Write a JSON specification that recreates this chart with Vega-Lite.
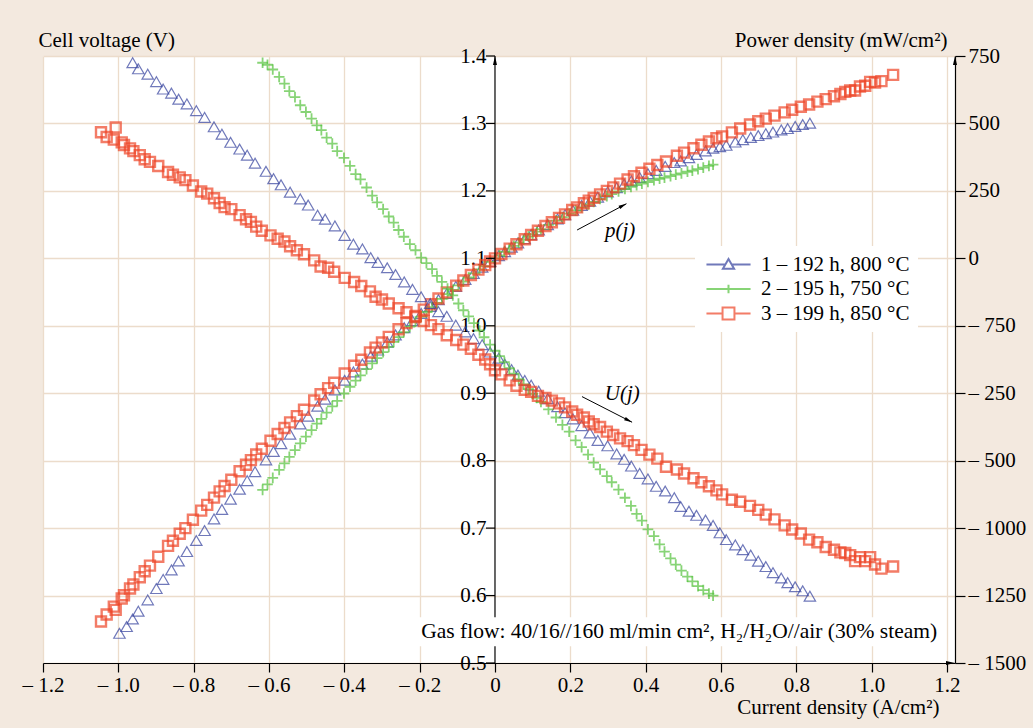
{
  "$schema": "https://vega.github.io/schema/vega-lite/v6.json",
  "width": 912,
  "height": 607,
  "autosize": {"type": "none"},
  "padding": {"left": 43, "top": 56, "right": 78, "bottom": 65},
  "background": "#f3e9df",
  "config": {
    "view": {"fill": "white", "stroke": null},
    "font": "Liberation Serif",
    "axis": {
      "labelFont": "Liberation Serif", "titleFont": "Liberation Serif",
      "labelFontSize": 21, "titleFontSize": 21, "titleFontWeight": "normal",
      "labelColor": "black", "titleColor": "black",
      "domainColor": "black", "tickColor": "black", "domainWidth": 1.2, "tickWidth": 1.2,
      "gridColor": "#ecdccb", "gridWidth": 1.3, "labelFlush": false, "labelOverlap": false
    }
  },
  "datasets": {
    "curves": [
      {"s":"1","j":-0.997,"U":null,"P":-1390},
      {"s":"1","j":-0.978,"U":null,"P":-1365},
      {"s":"1","j":-0.962,"U":1.390,"P":-1337},
      {"s":"1","j":-0.947,"U":1.381,"P":-1308},
      {"s":"1","j":-0.922,"U":1.373,"P":-1266},
      {"s":"1","j":-0.899,"U":1.362,"P":-1224},
      {"s":"1","j":-0.881,"U":1.351,"P":-1190},
      {"s":"1","j":-0.859,"U":1.345,"P":-1155},
      {"s":"1","j":-0.840,"U":1.336,"P":-1122},
      {"s":"1","j":-0.818,"U":1.329,"P":-1087},
      {"s":"1","j":-0.793,"U":1.319,"P":-1046},
      {"s":"1","j":-0.771,"U":1.309,"P":-1009},
      {"s":"1","j":-0.746,"U":1.295,"P":-966},
      {"s":"1","j":-0.725,"U":1.284,"P":-931},
      {"s":"1","j":-0.702,"U":1.272,"P":-893},
      {"s":"1","j":-0.678,"U":1.262,"P":-856},
      {"s":"1","j":-0.658,"U":1.253,"P":-824},
      {"s":"1","j":-0.637,"U":1.241,"P":-791},
      {"s":"1","j":-0.608,"U":1.229,"P":-747},
      {"s":"1","j":-0.588,"U":1.218,"P":-716},
      {"s":"1","j":-0.568,"U":1.209,"P":-687},
      {"s":"1","j":-0.544,"U":1.198,"P":-652},
      {"s":"1","j":-0.517,"U":1.188,"P":-614},
      {"s":"1","j":-0.496,"U":1.179,"P":-585},
      {"s":"1","j":-0.471,"U":1.164,"P":-548},
      {"s":"1","j":-0.451,"U":1.158,"P":-522},
      {"s":"1","j":-0.425,"U":1.148,"P":-488},
      {"s":"1","j":-0.399,"U":1.134,"P":-452},
      {"s":"1","j":-0.376,"U":1.121,"P":-421},
      {"s":"1","j":-0.352,"U":1.114,"P":-392},
      {"s":"1","j":-0.330,"U":1.101,"P":-363},
      {"s":"1","j":-0.311,"U":1.094,"P":-340},
      {"s":"1","j":-0.286,"U":1.086,"P":-311},
      {"s":"1","j":-0.264,"U":1.076,"P":-284},
      {"s":"1","j":-0.241,"U":1.065,"P":-257},
      {"s":"1","j":-0.219,"U":1.054,"P":-231},
      {"s":"1","j":-0.196,"U":1.043,"P":-204},
      {"s":"1","j":-0.172,"U":1.033,"P":-178},
      {"s":"1","j":-0.150,"U":1.021,"P":-153},
      {"s":"1","j":-0.128,"U":1.014,"P":-130},
      {"s":"1","j":-0.104,"U":1.001,"P":-104},
      {"s":"1","j":-0.079,"U":0.991,"P":-78},
      {"s":"1","j":-0.057,"U":0.981,"P":-56},
      {"s":"1","j":-0.034,"U":0.972,"P":-33},
      {"s":"1","j":-0.013,"U":0.961,"P":-12},
      {"s":"1","j":0.010,"U":0.952,"P":10},
      {"s":"1","j":0.026,"U":0.943,"P":25},
      {"s":"1","j":0.044,"U":0.935,"P":41},
      {"s":"1","j":0.061,"U":0.927,"P":57},
      {"s":"1","j":0.079,"U":0.919,"P":73},
      {"s":"1","j":0.096,"U":0.912,"P":88},
      {"s":"1","j":0.116,"U":0.903,"P":105},
      {"s":"1","j":0.140,"U":0.892,"P":125},
      {"s":"1","j":0.166,"U":0.880,"P":146},
      {"s":"1","j":0.186,"U":0.871,"P":162},
      {"s":"1","j":0.207,"U":0.862,"P":178},
      {"s":"1","j":0.230,"U":0.852,"P":196},
      {"s":"1","j":0.252,"U":0.841,"P":212},
      {"s":"1","j":0.273,"U":0.830,"P":227},
      {"s":"1","j":0.299,"U":0.822,"P":246},
      {"s":"1","j":0.323,"U":0.810,"P":262},
      {"s":"1","j":0.343,"U":0.802,"P":275},
      {"s":"1","j":0.362,"U":0.792,"P":287},
      {"s":"1","j":0.384,"U":0.781,"P":300},
      {"s":"1","j":0.406,"U":0.773,"P":314},
      {"s":"1","j":0.428,"U":0.762,"P":326},
      {"s":"1","j":0.452,"U":0.755,"P":341},
      {"s":"1","j":0.476,"U":0.745,"P":355},
      {"s":"1","j":0.493,"U":0.732,"P":361},
      {"s":"1","j":0.515,"U":0.725,"P":373},
      {"s":"1","j":0.535,"U":0.719,"P":385},
      {"s":"1","j":0.559,"U":0.712,"P":398},
      {"s":"1","j":0.579,"U":0.704,"P":408},
      {"s":"1","j":0.597,"U":0.693,"P":414},
      {"s":"1","j":0.614,"U":0.683,"P":419},
      {"s":"1","j":0.638,"U":0.675,"P":431},
      {"s":"1","j":0.658,"U":0.668,"P":440},
      {"s":"1","j":0.679,"U":0.660,"P":448},
      {"s":"1","j":0.699,"U":0.651,"P":455},
      {"s":"1","j":0.719,"U":0.643,"P":462},
      {"s":"1","j":0.738,"U":0.634,"P":468},
      {"s":"1","j":0.760,"U":0.626,"P":476},
      {"s":"1","j":0.777,"U":0.619,"P":481},
      {"s":"1","j":0.797,"U":0.613,"P":489},
      {"s":"1","j":0.817,"U":0.607,"P":496},
      {"s":"1","j":0.836,"U":0.599,"P":501},
      {"s":"2","j":-0.617,"U":1.390,"P":-858},
      {"s":"2","j":-0.604,"U":1.387,"P":-838},
      {"s":"2","j":-0.590,"U":1.380,"P":-814},
      {"s":"2","j":-0.573,"U":1.369,"P":-784},
      {"s":"2","j":-0.559,"U":1.359,"P":-760},
      {"s":"2","j":-0.546,"U":1.348,"P":-736},
      {"s":"2","j":-0.531,"U":1.339,"P":-711},
      {"s":"2","j":-0.517,"U":1.327,"P":-686},
      {"s":"2","j":-0.502,"U":1.317,"P":-661},
      {"s":"2","j":-0.487,"U":1.307,"P":-637},
      {"s":"2","j":-0.473,"U":1.297,"P":-613},
      {"s":"2","j":-0.461,"U":1.290,"P":-595},
      {"s":"2","j":-0.447,"U":1.279,"P":-572},
      {"s":"2","j":-0.432,"U":1.270,"P":-549},
      {"s":"2","j":-0.419,"U":1.259,"P":-528},
      {"s":"2","j":-0.401,"U":1.249,"P":-501},
      {"s":"2","j":-0.385,"U":1.237,"P":-476},
      {"s":"2","j":-0.370,"U":1.225,"P":-453},
      {"s":"2","j":-0.357,"U":1.217,"P":-434},
      {"s":"2","j":-0.341,"U":1.205,"P":-411},
      {"s":"2","j":-0.326,"U":1.193,"P":-389},
      {"s":"2","j":-0.313,"U":1.183,"P":-370},
      {"s":"2","j":-0.297,"U":1.173,"P":-348},
      {"s":"2","j":-0.282,"U":1.162,"P":-328},
      {"s":"2","j":-0.269,"U":1.153,"P":-310},
      {"s":"2","j":-0.256,"U":1.142,"P":-292},
      {"s":"2","j":-0.242,"U":1.132,"P":-274},
      {"s":"2","j":-0.226,"U":1.121,"P":-253},
      {"s":"2","j":-0.211,"U":1.112,"P":-235},
      {"s":"2","j":-0.196,"U":1.101,"P":-216},
      {"s":"2","j":-0.182,"U":1.093,"P":-199},
      {"s":"2","j":-0.167,"U":1.084,"P":-181},
      {"s":"2","j":-0.154,"U":1.074,"P":-165},
      {"s":"2","j":-0.141,"U":1.065,"P":-150},
      {"s":"2","j":-0.126,"U":1.055,"P":-133},
      {"s":"2","j":-0.112,"U":1.045,"P":-117},
      {"s":"2","j":-0.097,"U":1.033,"P":-100},
      {"s":"2","j":-0.084,"U":1.023,"P":-86},
      {"s":"2","j":-0.070,"U":1.014,"P":-71},
      {"s":"2","j":-0.056,"U":1.004,"P":-56},
      {"s":"2","j":-0.041,"U":0.993,"P":-41},
      {"s":"2","j":-0.029,"U":0.983,"P":-29},
      {"s":"2","j":-0.013,"U":0.972,"P":-13},
      {"s":"2","j":0.000,"U":0.963,"P":0},
      {"s":"2","j":0.012,"U":0.955,"P":11},
      {"s":"2","j":0.025,"U":0.946,"P":24},
      {"s":"2","j":0.038,"U":0.937,"P":36},
      {"s":"2","j":0.050,"U":0.929,"P":46},
      {"s":"2","j":0.063,"U":0.921,"P":58},
      {"s":"2","j":0.076,"U":0.913,"P":69},
      {"s":"2","j":0.089,"U":0.906,"P":81},
      {"s":"2","j":0.100,"U":0.899,"P":90},
      {"s":"2","j":0.111,"U":0.893,"P":99},
      {"s":"2","j":0.122,"U":0.887,"P":108},
      {"s":"2","j":0.142,"U":0.876,"P":124},
      {"s":"2","j":0.162,"U":0.864,"P":140},
      {"s":"2","j":0.179,"U":0.853,"P":153},
      {"s":"2","j":0.197,"U":0.843,"P":166},
      {"s":"2","j":0.214,"U":0.830,"P":178},
      {"s":"2","j":0.230,"U":0.820,"P":189},
      {"s":"2","j":0.247,"U":0.809,"P":200},
      {"s":"2","j":0.262,"U":0.797,"P":209},
      {"s":"2","j":0.279,"U":0.787,"P":220},
      {"s":"2","j":0.297,"U":0.777,"P":231},
      {"s":"2","j":0.310,"U":0.768,"P":238},
      {"s":"2","j":0.328,"U":0.757,"P":248},
      {"s":"2","j":0.345,"U":0.745,"P":257},
      {"s":"2","j":0.361,"U":0.733,"P":265},
      {"s":"2","j":0.376,"U":0.721,"P":271},
      {"s":"2","j":0.390,"U":0.711,"P":277},
      {"s":"2","j":0.406,"U":0.698,"P":283},
      {"s":"2","j":0.422,"U":0.688,"P":290},
      {"s":"2","j":0.437,"U":0.676,"P":295},
      {"s":"2","j":0.450,"U":0.665,"P":299},
      {"s":"2","j":0.466,"U":0.655,"P":305},
      {"s":"2","j":0.480,"U":0.646,"P":310},
      {"s":"2","j":0.495,"U":0.637,"P":315},
      {"s":"2","j":0.511,"U":0.628,"P":321},
      {"s":"2","j":0.524,"U":0.621,"P":325},
      {"s":"2","j":0.539,"U":0.614,"P":331},
      {"s":"2","j":0.553,"U":0.608,"P":336},
      {"s":"2","j":0.568,"U":0.603,"P":343},
      {"s":"2","j":0.579,"U":0.600,"P":347},
      {"s":"3","j":-1.046,"U":1.287,"P":-1346},
      {"s":"3","j":-1.031,"U":1.280,"P":-1320},
      {"s":"3","j":-1.012,"U":1.276,"P":-1291},
      {"s":"3","j":-1.007,"U":1.294,"P":-1303},
      {"s":"3","j":-0.991,"U":1.272,"P":-1261},
      {"s":"3","j":-0.985,"U":1.268,"P":-1249},
      {"s":"3","j":-0.969,"U":1.263,"P":-1224},
      {"s":"3","j":-0.960,"U":1.259,"P":-1209},
      {"s":"3","j":-0.943,"U":1.253,"P":-1182},
      {"s":"3","j":-0.930,"U":1.247,"P":-1160},
      {"s":"3","j":-0.916,"U":1.243,"P":-1139},
      {"s":"3","j":-0.894,"U":1.237,"P":-1106},
      {"s":"3","j":-0.868,"U":1.228,"P":-1066},
      {"s":"3","j":-0.855,"U":1.224,"P":-1047},
      {"s":"3","j":-0.837,"U":1.220,"P":-1021},
      {"s":"3","j":-0.822,"U":1.216,"P":-1000},
      {"s":"3","j":-0.802,"U":1.208,"P":-969},
      {"s":"3","j":-0.780,"U":1.199,"P":-935},
      {"s":"3","j":-0.764,"U":1.196,"P":-914},
      {"s":"3","j":-0.746,"U":1.189,"P":-887},
      {"s":"3","j":-0.731,"U":1.182,"P":-864},
      {"s":"3","j":-0.718,"U":1.176,"P":-844},
      {"s":"3","j":-0.700,"U":1.173,"P":-821},
      {"s":"3","j":-0.678,"U":1.164,"P":-789},
      {"s":"3","j":-0.661,"U":1.158,"P":-765},
      {"s":"3","j":-0.648,"U":1.154,"P":-748},
      {"s":"3","j":-0.634,"U":1.147,"P":-727},
      {"s":"3","j":-0.619,"U":1.141,"P":-706},
      {"s":"3","j":-0.596,"U":1.134,"P":-676},
      {"s":"3","j":-0.577,"U":1.129,"P":-651},
      {"s":"3","j":-0.559,"U":1.125,"P":-629},
      {"s":"3","j":-0.544,"U":1.118,"P":-608},
      {"s":"3","j":-0.526,"U":1.112,"P":-585},
      {"s":"3","j":-0.507,"U":1.106,"P":-561},
      {"s":"3","j":-0.480,"U":1.097,"P":-527},
      {"s":"3","j":-0.463,"U":1.088,"P":-504},
      {"s":"3","j":-0.443,"U":1.086,"P":-481},
      {"s":"3","j":-0.427,"U":1.080,"P":-461},
      {"s":"3","j":-0.399,"U":1.071,"P":-427},
      {"s":"3","j":-0.374,"U":1.065,"P":-398},
      {"s":"3","j":-0.355,"U":1.059,"P":-376},
      {"s":"3","j":-0.332,"U":1.051,"P":-349},
      {"s":"3","j":-0.317,"U":1.043,"P":-331},
      {"s":"3","j":-0.300,"U":1.039,"P":-312},
      {"s":"3","j":-0.282,"U":1.033,"P":-291},
      {"s":"3","j":-0.256,"U":1.026,"P":-263},
      {"s":"3","j":-0.235,"U":1.020,"P":-240},
      {"s":"3","j":-0.211,"U":1.013,"P":-214},
      {"s":"3","j":-0.189,"U":1.007,"P":-190},
      {"s":"3","j":-0.170,"U":1.001,"P":-170},
      {"s":"3","j":-0.150,"U":0.995,"P":-149},
      {"s":"3","j":-0.128,"U":0.986,"P":-126},
      {"s":"3","j":-0.103,"U":0.979,"P":-101},
      {"s":"3","j":-0.084,"U":0.972,"P":-82},
      {"s":"3","j":-0.064,"U":0.966,"P":-62},
      {"s":"3","j":-0.044,"U":0.957,"P":-42},
      {"s":"3","j":-0.026,"U":0.950,"P":-25},
      {"s":"3","j":-0.013,"U":0.943,"P":-12},
      {"s":"3","j":0.000,"U":0.934,"P":0},
      {"s":"3","j":0.017,"U":0.928,"P":16},
      {"s":"3","j":0.039,"U":0.919,"P":36},
      {"s":"3","j":0.057,"U":0.911,"P":52},
      {"s":"3","j":0.079,"U":0.905,"P":71},
      {"s":"3","j":0.096,"U":0.902,"P":87},
      {"s":"3","j":0.114,"U":0.896,"P":102},
      {"s":"3","j":0.134,"U":0.893,"P":120},
      {"s":"3","j":0.151,"U":0.889,"P":134},
      {"s":"3","j":0.170,"U":0.885,"P":150},
      {"s":"3","j":0.186,"U":0.879,"P":163},
      {"s":"3","j":0.205,"U":0.873,"P":179},
      {"s":"3","j":0.218,"U":0.868,"P":189},
      {"s":"3","j":0.236,"U":0.864,"P":204},
      {"s":"3","j":0.249,"U":0.858,"P":214},
      {"s":"3","j":0.262,"U":0.854,"P":224},
      {"s":"3","j":0.279,"U":0.850,"P":237},
      {"s":"3","j":0.297,"U":0.843,"P":250},
      {"s":"3","j":0.314,"U":0.838,"P":263},
      {"s":"3","j":0.332,"U":0.833,"P":277},
      {"s":"3","j":0.352,"U":0.829,"P":292},
      {"s":"3","j":0.369,"U":0.823,"P":304},
      {"s":"3","j":0.389,"U":0.816,"P":317},
      {"s":"3","j":0.410,"U":0.809,"P":332},
      {"s":"3","j":0.431,"U":0.803,"P":346},
      {"s":"3","j":0.454,"U":0.791,"P":359},
      {"s":"3","j":0.483,"U":0.787,"P":380},
      {"s":"3","j":0.502,"U":0.781,"P":392},
      {"s":"3","j":0.527,"U":0.774,"P":408},
      {"s":"3","j":0.548,"U":0.768,"P":421},
      {"s":"3","j":0.568,"U":0.762,"P":433},
      {"s":"3","j":0.588,"U":0.756,"P":445},
      {"s":"3","j":0.603,"U":0.750,"P":452},
      {"s":"3","j":0.629,"U":0.742,"P":467},
      {"s":"3","j":0.651,"U":0.739,"P":481},
      {"s":"3","j":0.677,"U":0.733,"P":496},
      {"s":"3","j":0.699,"U":0.727,"P":508},
      {"s":"3","j":0.719,"U":0.720,"P":518},
      {"s":"3","j":0.742,"U":0.713,"P":529},
      {"s":"3","j":0.769,"U":0.704,"P":541},
      {"s":"3","j":0.789,"U":0.698,"P":551},
      {"s":"3","j":0.812,"U":0.692,"P":562},
      {"s":"3","j":0.834,"U":0.683,"P":570},
      {"s":"3","j":0.856,"U":0.679,"P":581},
      {"s":"3","j":0.878,"U":0.672,"P":590},
      {"s":"3","j":0.900,"U":0.668,"P":601},
      {"s":"3","j":0.917,"U":0.664,"P":609},
      {"s":"3","j":0.930,"U":0.663,"P":617},
      {"s":"3","j":0.943,"U":0.660,"P":622},
      {"s":"3","j":0.956,"U":0.651,"P":622},
      {"s":"3","j":0.969,"U":0.657,"P":637},
      {"s":"3","j":0.983,"U":0.651,"P":640},
      {"s":"3","j":0.996,"U":0.657,"P":654},
      {"s":"3","j":1.009,"U":0.646,"P":652},
      {"s":"3","j":1.026,"U":0.640,"P":657},
      {"s":"3","j":1.057,"U":0.643,"P":680}
    ],
    "uticks": [
      {"t":0.5},{"t":0.6},{"t":0.7},{"t":0.8},{"t":0.9},
      {"t":1.0},{"t":1.1},{"t":1.2},{"t":1.3},{"t":1.4}
    ]
  },
  "data": {"name": "curves"},
  "resolve": {"scale": {"y": "independent", "color": "independent", "shape": "independent"}},
  "layer": [
    {
      "mark": {"type": "point", "filled": false, "clip": true},
      "encoding": {
        "x": {"field": "j", "type": "quantitative", "scale": {"domain": [-1.2, 1.2213], "nice": false, "zero": false}},
        "y": {
          "field": "P", "type": "quantitative",
          "scale": {"domain": [-1500, 750], "nice": false, "zero": false},
          "axis": {
            "orient": "right",
            "values": [-1500, -1250, -1000, -750, -500, -250, 0, 250, 500, 750],
            "labelExpr": "datum.value == -250 ? '– 750' : datum.value == -500 ? '– 250' : datum.value == -750 ? '– 500' : datum.value < 0 ? '– ' + abs(datum.value) : '' + datum.value",
            "grid": true, "tickSize": 10, "labelPadding": 3,
            "title": "Power density (mW/cm²)", "titleAngle": 0,
            "titleX": -8, "titleY": -10, "titleAlign": "right", "titleBaseline": "alphabetic"
          }
        },
        "color": {
          "field": "s", "type": "nominal",
          "scale": {"domain": ["1", "2", "3"], "range": ["#34419e", "#55c23d", "#ee4527"]},
          "legend": null
        },
        "shape": {
          "field": "s", "type": "nominal",
          "scale": {"domain": ["1", "2", "3"], "range": ["triangle-up", "M-1,0H1M0,-1V1", "square"]},
          "legend": null
        },
        "size": {
          "field": "s", "type": "ordinal",
          "scale": {"range": [130, 100, 170]},
          "legend": null
        },
        "strokeWidth": {
          "field": "s", "type": "ordinal",
          "scale": {"range": [1.2, 2.4, 1.4]},
          "legend": null
        }
      }
    },
    {
      "layer": [
        {
          "mark": {"type": "point", "filled": false, "clip": true},
          "encoding": {
            "x": {
              "field": "j", "type": "quantitative",
              "scale": {"domain": [-1.2, 1.2213], "nice": false, "zero": false},
              "axis": {
                "values": [-1.2, -1, -0.8, -0.6, -0.4, -0.2, 0, 0.2, 0.4, 0.6, 0.8, 1, 1.2],
                "labelExpr": "datum.value == 0 ? '0' : (datum.value < 0 ? '– ' : '') + format(abs(datum.value), '.1f')",
                "grid": true, "tickSize": 9, "labelPadding": 2,
                "gridOpacity": {"condition": {"test": "datum.value === 0", "value": 0}, "value": 1},
                "title": "Current density (A/cm²)",
                "titleX": 896, "titleY": 50, "titleAlign": "right", "titleBaseline": "alphabetic"
              }
            },
            "y": {
              "field": "U", "type": "quantitative",
              "scale": {"domain": [0.5, 1.4], "nice": false, "zero": false},
              "axis": {
                "orient": "left", "offset": -455,
                "domain": false, "ticks": false,
                "values": [0.5, 0.6, 0.7, 0.8, 0.9, 1, 1.1, 1.2, 1.3, 1.4],
                "format": ".1f", "grid": false, "labelPadding": 12,
                "title": "Cell voltage (V)", "titleAngle": 0,
                "titleX": -460, "titleY": -10, "titleAlign": "left", "titleBaseline": "alphabetic"
              }
            },
            "color": {
              "field": "s", "type": "nominal",
              "scale": {"domain": ["1", "2", "3"], "range": ["#34419e", "#55c23d", "#ee4527"]},
              "legend": null
            },
            "shape": {
              "field": "s", "type": "nominal",
              "scale": {"domain": ["1", "2", "3"], "range": ["triangle-up", "M-1,0H1M0,-1V1", "square"]},
              "legend": null
            },
            "size": {
              "field": "s", "type": "ordinal",
              "scale": {"range": [130, 100, 170]},
              "legend": null
            },
            "strokeWidth": {
              "field": "s", "type": "ordinal",
              "scale": {"range": [1.2, 2.4, 1.4]},
              "legend": null
            }
          }
        },
        {
          "data": {"values": [{}]},
          "mark": {"type": "rule", "color": "black", "strokeWidth": 1.2},
          "encoding": {
            "x": {"datum": 0, "type": "quantitative"},
            "y": {"datum": 0.5, "type": "quantitative"},
            "y2": {"datum": 1.4}
          }
        },
        {
          "data": {"name": "uticks"},
          "mark": {"type": "rule", "color": "black", "strokeWidth": 1.2},
          "encoding": {
            "x": {"datum": -0.0239, "type": "quantitative"},
            "x2": {"datum": 0},
            "y": {"field": "t", "type": "quantitative", "scale": {"domain": [0.5, 1.4], "nice": false, "zero": false}}
          }
        },
        {
          "data": {"values": [{}]},
          "mark": {"type": "rect", "fill": "white"},
          "encoding": {
            "x": {"datum": -0.215, "type": "quantitative"},
            "x2": {"datum": 1.19},
            "y": {"datum": 0.525, "type": "quantitative"},
            "y2": {"datum": 0.568}
          }
        },
        {
          "data": {"values": [{}]},
          "mark": {"type": "text", "font": "Liberation Serif", "fontSize": 21.5, "align": "center", "baseline": "middle", "color": "black"},
          "encoding": {
            "x": {"datum": 0.489, "type": "quantitative"},
            "y": {"datum": 0.546, "type": "quantitative"},
            "text": {"value": "Gas flow: 40/16//160 ml/min cm², H₂/H₂O//air (30% steam)"}
          }
        },
        {
          "data": {"values": [{}]},
          "mark": {"type": "rule", "color": "black", "strokeWidth": 1},
          "encoding": {
            "x": {"datum": 0.218, "type": "quantitative"},
            "y": {"datum": 1.142, "type": "quantitative"},
            "x2": {"datum": 0.349},
            "y2": {"datum": 1.181}
          }
        },
        {
          "data": {"values": [{}]},
          "mark": {"type": "rule", "color": "black", "strokeWidth": 1},
          "encoding": {
            "x": {"datum": 0.231, "type": "quantitative"},
            "y": {"datum": 0.895, "type": "quantitative"},
            "x2": {"datum": 0.364},
            "y2": {"datum": 0.857}
          }
        },
        {
          "data": {"values": [{}]},
          "mark": {"type": "point", "filled": true, "color": "black", "shape": "M0,0L-0.45,2L0.45,2Z", "size": 64, "angle": 62, "opacity": 1},
          "encoding": {
            "x": {"datum": 0.349, "type": "quantitative"},
            "y": {"datum": 1.181, "type": "quantitative"}
          }
        },
        {
          "data": {"values": [{}]},
          "mark": {"type": "point", "filled": true, "color": "black", "shape": "M0,0L-0.45,2L0.45,2Z", "size": 64, "angle": 117, "opacity": 1},
          "encoding": {
            "x": {"datum": 0.364, "type": "quantitative"},
            "y": {"datum": 0.857, "type": "quantitative"}
          }
        },
        {
          "data": {"values": [{}]},
          "mark": {"type": "point", "filled": true, "color": "black", "shape": "M0,0L-0.45,2L0.45,2Z", "size": 81, "angle": 0, "opacity": 1, "clip": false},
          "encoding": {
            "x": {"datum": 0, "type": "quantitative"},
            "y": {"datum": 1.4, "type": "quantitative"}
          }
        },
        {
          "data": {"values": [{}]},
          "mark": {"type": "point", "filled": true, "color": "black", "shape": "M0,0L-0.45,2L0.45,2Z", "size": 81, "angle": 0, "opacity": 1, "clip": false},
          "encoding": {
            "x": {"datum": 1.2213, "type": "quantitative"},
            "y": {"datum": 1.4, "type": "quantitative"}
          }
        },
        {
          "data": {"values": [{}]},
          "mark": {"type": "point", "filled": true, "color": "black", "shape": "M0,0L-0.45,2L0.45,2Z", "size": 81, "angle": 90, "opacity": 1, "clip": false},
          "encoding": {
            "x": {"datum": 1.2213, "type": "quantitative"},
            "y": {"datum": 0.5, "type": "quantitative"}
          }
        },
        {
          "data": {"values": [{}]},
          "mark": {"type": "text", "font": "Liberation Serif", "fontSize": 21, "fontStyle": "italic", "align": "center", "baseline": "alphabetic", "color": "black"},
          "encoding": {
            "x": {"datum": 0.332, "type": "quantitative"},
            "y": {"datum": 1.132, "type": "quantitative"},
            "text": {"value": "p(j)"}
          }
        },
        {
          "data": {"values": [{}]},
          "mark": {"type": "text", "font": "Liberation Serif", "fontSize": 21, "fontStyle": "italic", "align": "center", "baseline": "alphabetic", "color": "black"},
          "encoding": {
            "x": {"datum": 0.338, "type": "quantitative"},
            "y": {"datum": 0.89, "type": "quantitative"},
            "text": {"value": "U(j)"}
          }
        }
      ]
    },
    {
      "transform": [{"filter": "datum.s == 'none'"}],
      "mark": {"type": "point", "filled": false},
      "encoding": {
        "x": {"field": "j", "type": "quantitative", "scale": {"domain": [-1.2, 1.2213], "nice": false, "zero": false}},
        "color": {
          "field": "s", "type": "nominal",
          "scale": {"domain": ["1", "2", "3"], "range": ["#34419e", "#55c23d", "#ee4527"]},
          "legend": {
            "orient": "none", "legendX": 652, "legendY": 190, "title": null,
            "fillColor": "white", "padding": 8,
            "labelFont": "Liberation Serif", "labelFontSize": 21, "labelColor": "black",
            "labelExpr": "datum.value == '1' ? '1 – 192 h, 800 °C' : datum.value == '2' ? '2 – 195 h, 750 °C' : '3 – 199 h, 850 °C'",
            "symbolSize": 196, "symbolOffset": 15, "labelOffset": 22, "rowPadding": 2.5,
            "symbolStrokeWidth": 2, "symbolFillColor": "white"
          }
        },
        "shape": {
          "field": "s", "type": "nominal",
          "scale": {"domain": ["1", "2", "3"], "range": ["M-3.15,0H-0.46M0.46,0H3.15M0,-0.8L0.8,0.6H-0.8Z", "M-3.15,0H3.15M0,-0.6V0.6", "M-3.15,0H-0.85M0.85,0H3.15M-0.85,-0.85H0.85V0.85H-0.85Z"]},
          "legend": {
            "orient": "none", "legendX": 652, "legendY": 190, "title": null,
            "fillColor": "white", "padding": 8,
            "labelFont": "Liberation Serif", "labelFontSize": 21, "labelColor": "black",
            "labelExpr": "datum.value == '1' ? '1 – 192 h, 800 °C' : datum.value == '2' ? '2 – 195 h, 750 °C' : '3 – 199 h, 850 °C'",
            "symbolSize": 196, "symbolOffset": 15, "labelOffset": 22, "rowPadding": 2.5,
            "symbolStrokeWidth": 2, "symbolFillColor": "white"
          }
        }
      }
    }
  ]
}
